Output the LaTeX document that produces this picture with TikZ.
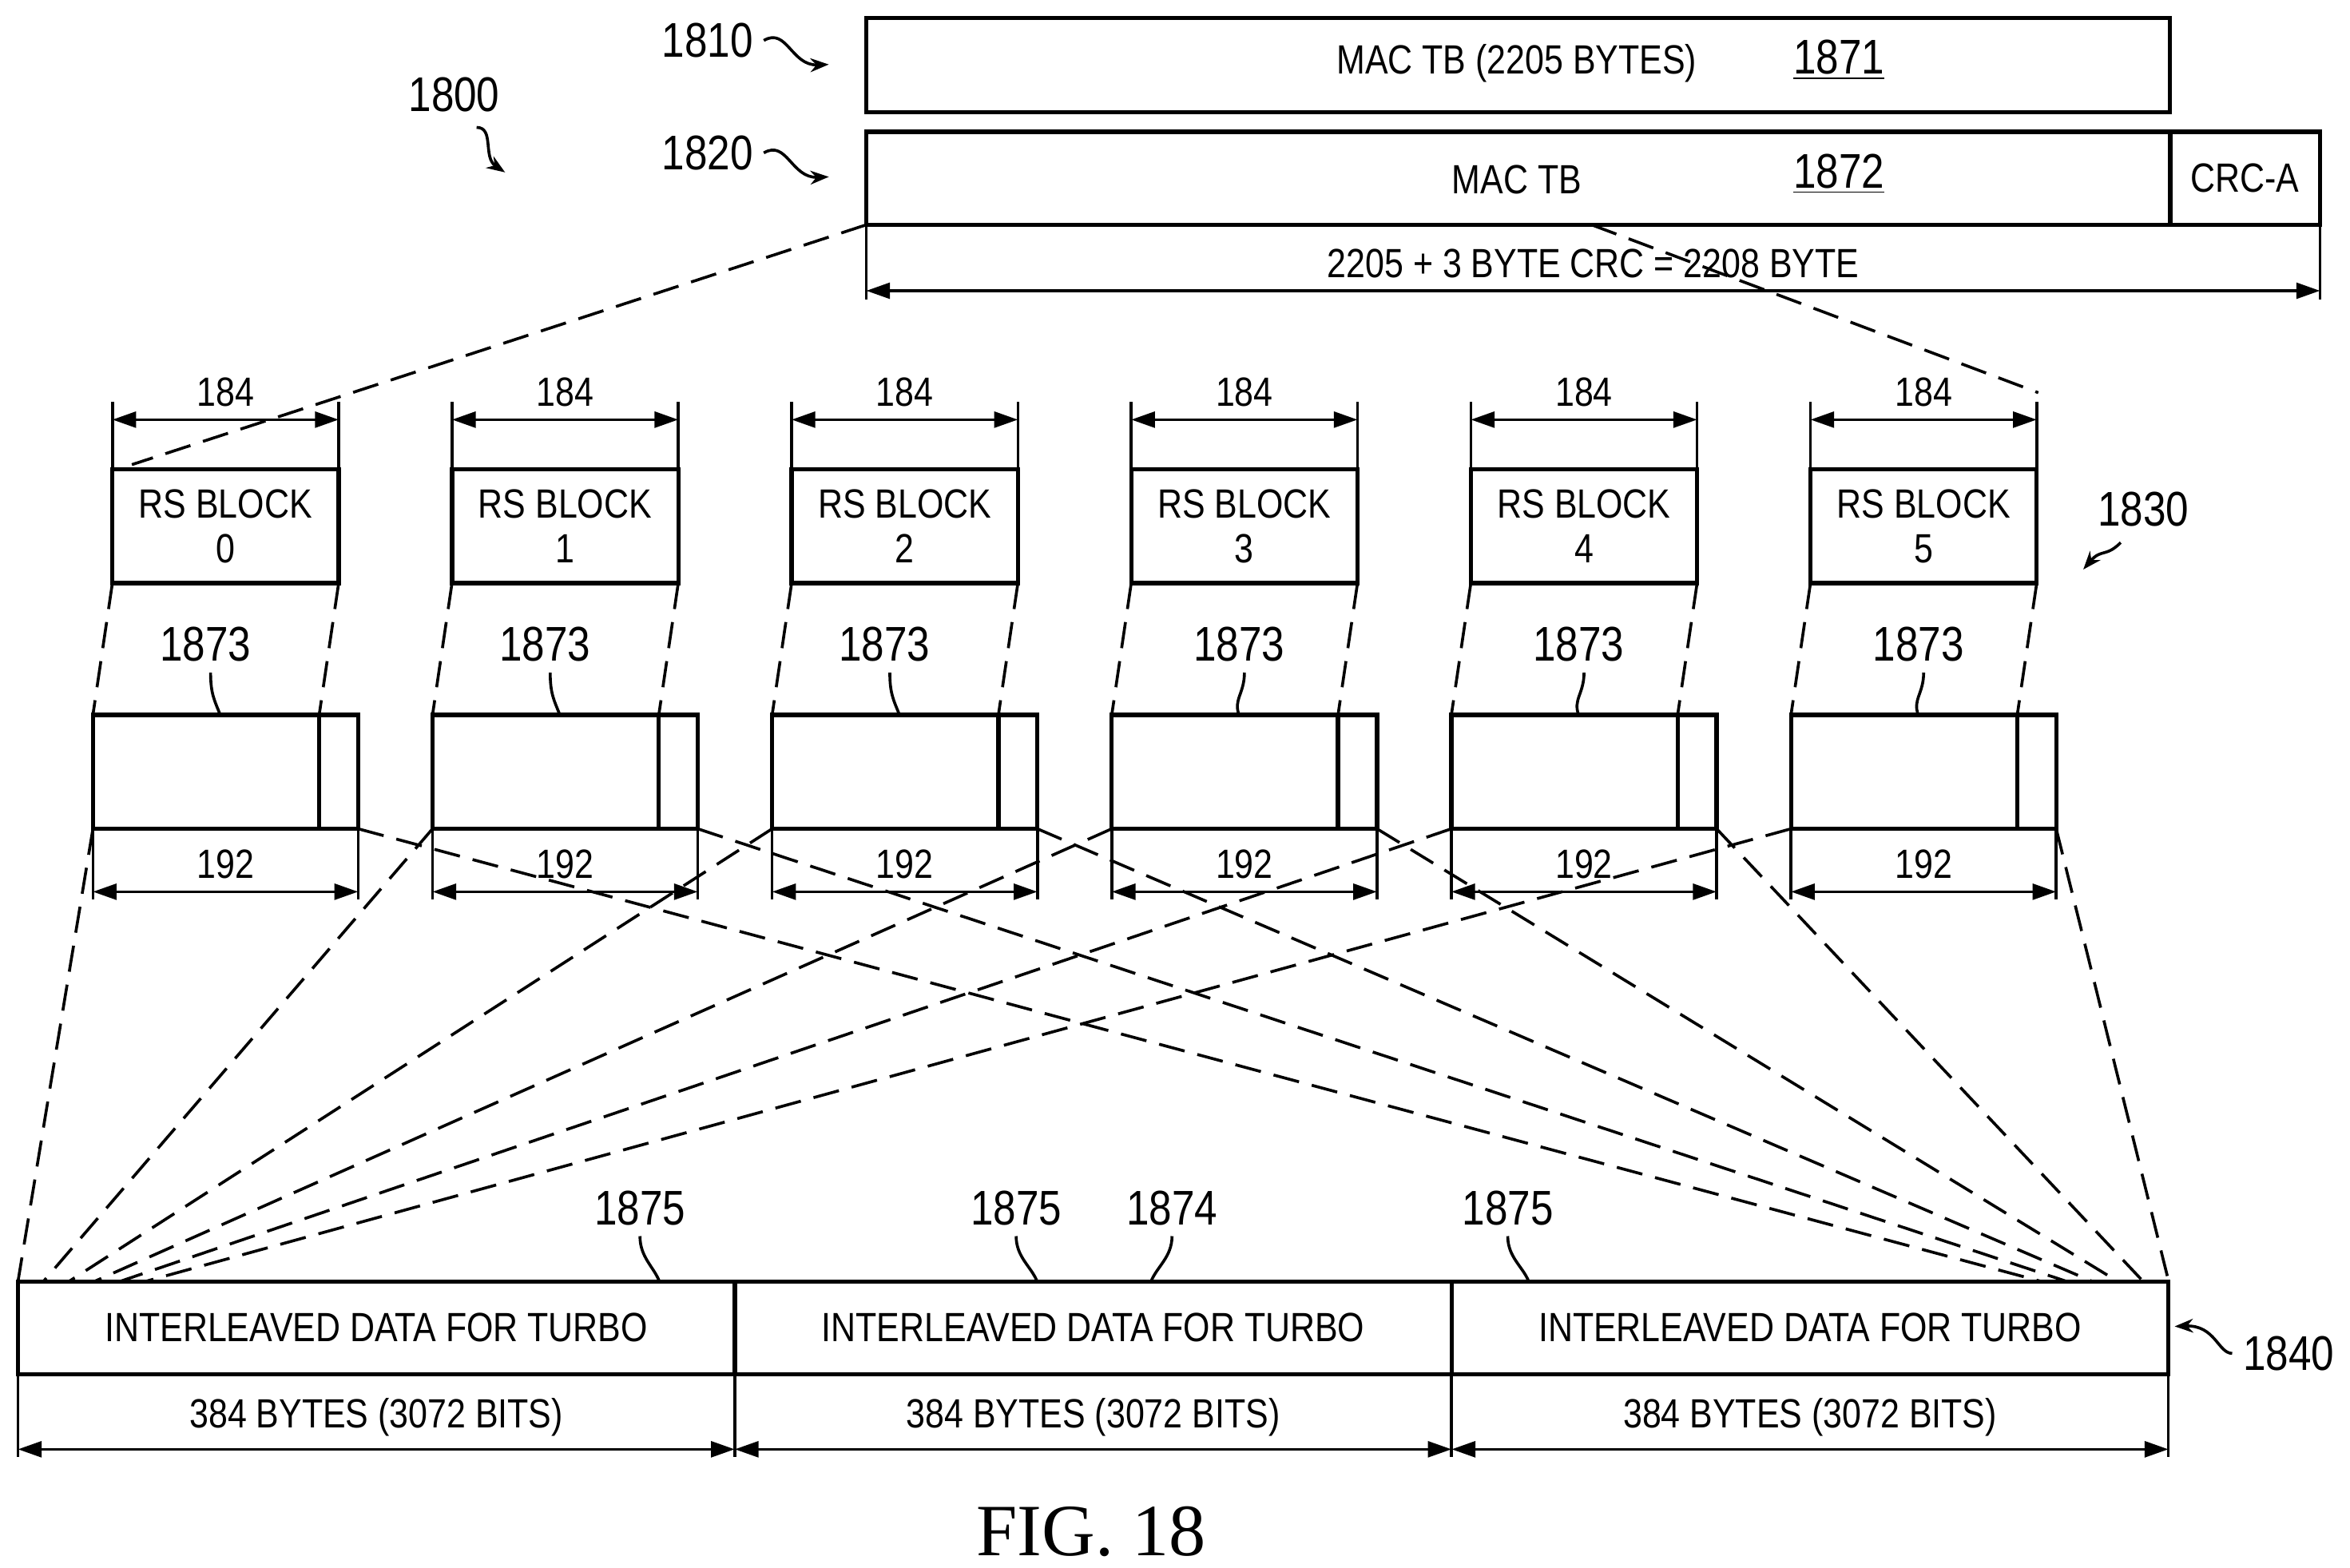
\documentclass[tikz,border=0pt]{standalone}
\usepackage{fontspec}
\setmainfont{Liberation Sans}[FakeStretch=0.84]
\newfontfamily\figfont{Liberation Serif}
\usetikzlibrary{arrows.meta,positioning}
\begin{document}
\begin{tikzpicture}[x=0.02cm,y=-0.02cm,line width=1.6pt,
    font=\fontsize{15.5}{17}\selectfont]

    \tikzset{box/.style={%
      draw,%
      rectangle,%
      anchor=north west,%
      minimum height=1.52cm,%
      outer sep=0pt,%
      inner sep=0pt}%
    };
    \tikzset{dim/.style={line width=1.1pt, {Triangle[length=9pt,width=6pt]}-{Triangle[length=9pt,width=6pt]}}};
    \tikzset{tick/.style={line width=1.1pt}};
    \tikzset{fan/.style={line width=1.1pt, dash pattern=on 10pt off 5pt}};
    \tikzset{lead/.style={line width=1.1pt}};
    \tikzset{ref/.style={font=\fontsize{18.5}{20}\selectfont}};

    \useasboundingbox (0,0) rectangle (1568,1046);

    %%%%%%%%%%%%%%%
    %  MAC TB     %
    %%%%%%%%%%%%%%%
    \node [box, minimum width=17.4cm, minimum height=1.26cm] (tba) at (578,12) {};
    \node at (1012,42) {MAC TB (2205 BYTES)};
    \node [ref] at (1227,40) {\underline{1871}};
    \node [box, minimum width=17.4cm, minimum height=1.24cm] (tbb) at (578,88) {};
    \node [box, minimum width=2cm, minimum height=1.24cm] (crc) at (1448,88) {CRC-A};
    \node at (1012,120) {MAC TB};
    \node [ref] at (1227,116) {\underline{1872}};

    \draw [tick] (tbb.south west) -- ++(0,50) coordinate (tl);
    \draw [tick] (crc.south east) -- ++(0,50) coordinate (tr);
    \draw [dim] ([yshift=0.12cm]tl) -- ([yshift=0.12cm]tr)
      node [midway, above=1pt] {2205 + 3 BYTE CRC = 2208 BYTE};

    \node [ref] (r1810) at (472,27) {1810};
    \node [ref] (r1820) at (472,102) {1820};
    \node [ref] (r1800) at (303,63) {1800};
    \coordinate (e1810) at (553,43);
    \coordinate (e1820) at (553,118);
    \coordinate (e1800) at (337,115);
    \draw [lead, -{Stealth[length=7pt]}] (r1810.east) .. controls (525,18) and (528,44) .. (e1810);
    \draw [lead, -{Stealth[length=7pt]}] (r1820.east) .. controls (525,93) and (528,119) .. (e1820);
    \draw [lead, -{Stealth[length=7pt]}] (318,85) .. controls (330,85) and (322,105) .. (e1800);

    %%%%%%%%%%%%%%%
    %  RS blocks  %
    %%%%%%%%%%%%%%%
    \foreach \i in {0,...,5} {
      \pgfmathsetmacro{\lx}{137+226.6*\i+10*(\i>2)}
      \node [box, minimum width=3.02cm, align=center] (rs\i) at ({75+226.6*\i},313) {RS BLOCK\\\i};
      \draw [tick] (rs\i.north west) -- ++(0,-45) coordinate (ra\i);
      \draw [tick] (rs\i.north east) -- ++(0,-45) coordinate (rb\i);
      \draw [dim] ([yshift=-0.24cm]ra\i) -- ([yshift=-0.24cm]rb\i) node [midway, above=1pt] {184};

      \node [box, minimum width=3.54cm] (cb\i) at ({62+226.6*\i},477) {};
      \draw ([xshift=3.02cm]cb\i.north west) coordinate (cd\i) -- ([xshift=3.02cm]cb\i.south west);
      \draw [tick] (cb\i.south west) -- ++(0,47) coordinate (ca\i);
      \draw [tick] (cb\i.south east) -- ++(0,47) coordinate (cc\i);
      \draw [dim] ([yshift=0.1cm]ca\i) -- ([yshift=0.1cm]cc\i) node [midway, above=1pt] {192};

      \draw [fan] (rs\i.south west) -- (cb\i.north west);
      \draw [fan] (rs\i.south east) -- (cd\i);

      \node [ref] (r1873\i) at (\lx,430) {1873};
      \draw [lead] ([xshift=2pt]r1873\i.south) .. controls +(0,14) and +(-4,-10) .. ([xshift=-2pt]cb\i.north);
    }
    \coordinate (fa) at (578,150);
    \coordinate (fb) at (88,310);
    \coordinate (fc) at (1062,150);
    \coordinate (fd) at (1360,262);
    \draw [fan] (fa) -- (fb);
    \draw [fan] (fc) -- (fd);

    \node [ref] (r1830) at (1430,340) {1830};
    \coordinate (e1830) at (1390,380);
    \draw [lead, -{Stealth[length=7pt]}] (1415,362) .. controls (1405,372) and (1402,366) .. (e1830);

    %%%%%%%%%%%%%%%
    %  turbo      %
    %%%%%%%%%%%%%%%
    \foreach \j in {0,1,2} {
      \node [box, minimum width=9.566cm, minimum height=1.24cm] (tu\j) at ({12+478.3*\j},855)
        {\hbox to 9.566cm{\hfil INTERLEAVED DATA FOR TURBO\hfil}};
      \draw [tick] (tu\j.south west) -- ++(0,55) coordinate (ta\j);
      \draw [tick] (tu\j.south east) -- ++(0,55) coordinate (tb\j);
      \draw [dim] ([yshift=0.1cm]ta\j) -- ([yshift=0.1cm]tb\j) node [midway, above=1pt] {384 BYTES (3072 BITS)};
    }
    \foreach \i in {0,...,5} {
      \coordinate (fl\i) at ({12+17*\i},855);
      \coordinate (fr\i) at ({1447-17*\i},855);
      \draw [fan] (cb\i.south west) -- (fl\i);
    }
    \foreach \i/\k in {5/0,4/1,3/2,2/3,1/4,0/5} {
      \draw [fan] (cb\i.south east) -- (fr\k);
    }

    \node [ref] (r1875a) at (427,806) {1875};
    \node [ref] (r1875b) at (678,806) {1875};
    \node [ref] (r1874) at (782,806) {1874};
    \node [ref] (r1875c) at (1006,806) {1875};
    \coordinate (ea) at (440,855);
    \coordinate (eb) at (692,855);
    \coordinate (ec) at (768,855);
    \coordinate (ed) at (1020,855);
    \draw [lead] (r1875a.south) .. controls +(0,14) and +(-4,-10) .. (ea);
    \draw [lead] (r1875b.south) .. controls +(0,14) and +(-4,-10) .. (eb);
    \draw [lead] (r1874.south) .. controls +(0,14) and +(4,-10) .. (ec);
    \draw [lead] (r1875c.south) .. controls +(0,14) and +(-4,-10) .. (ed);

    \node [ref] (r1840) at (1527,903) {1840};
    \coordinate (e1840) at (1451,885);
    \draw [lead, -{Stealth[length=7pt]}] (r1840.west) .. controls (1480,903) and (1478,884) .. (e1840);

    \node [font=\figfont\fontsize{28}{30}\selectfont] (fig) at (728,1022) {FIG. 18};

  \end{tikzpicture}
\end{document}
